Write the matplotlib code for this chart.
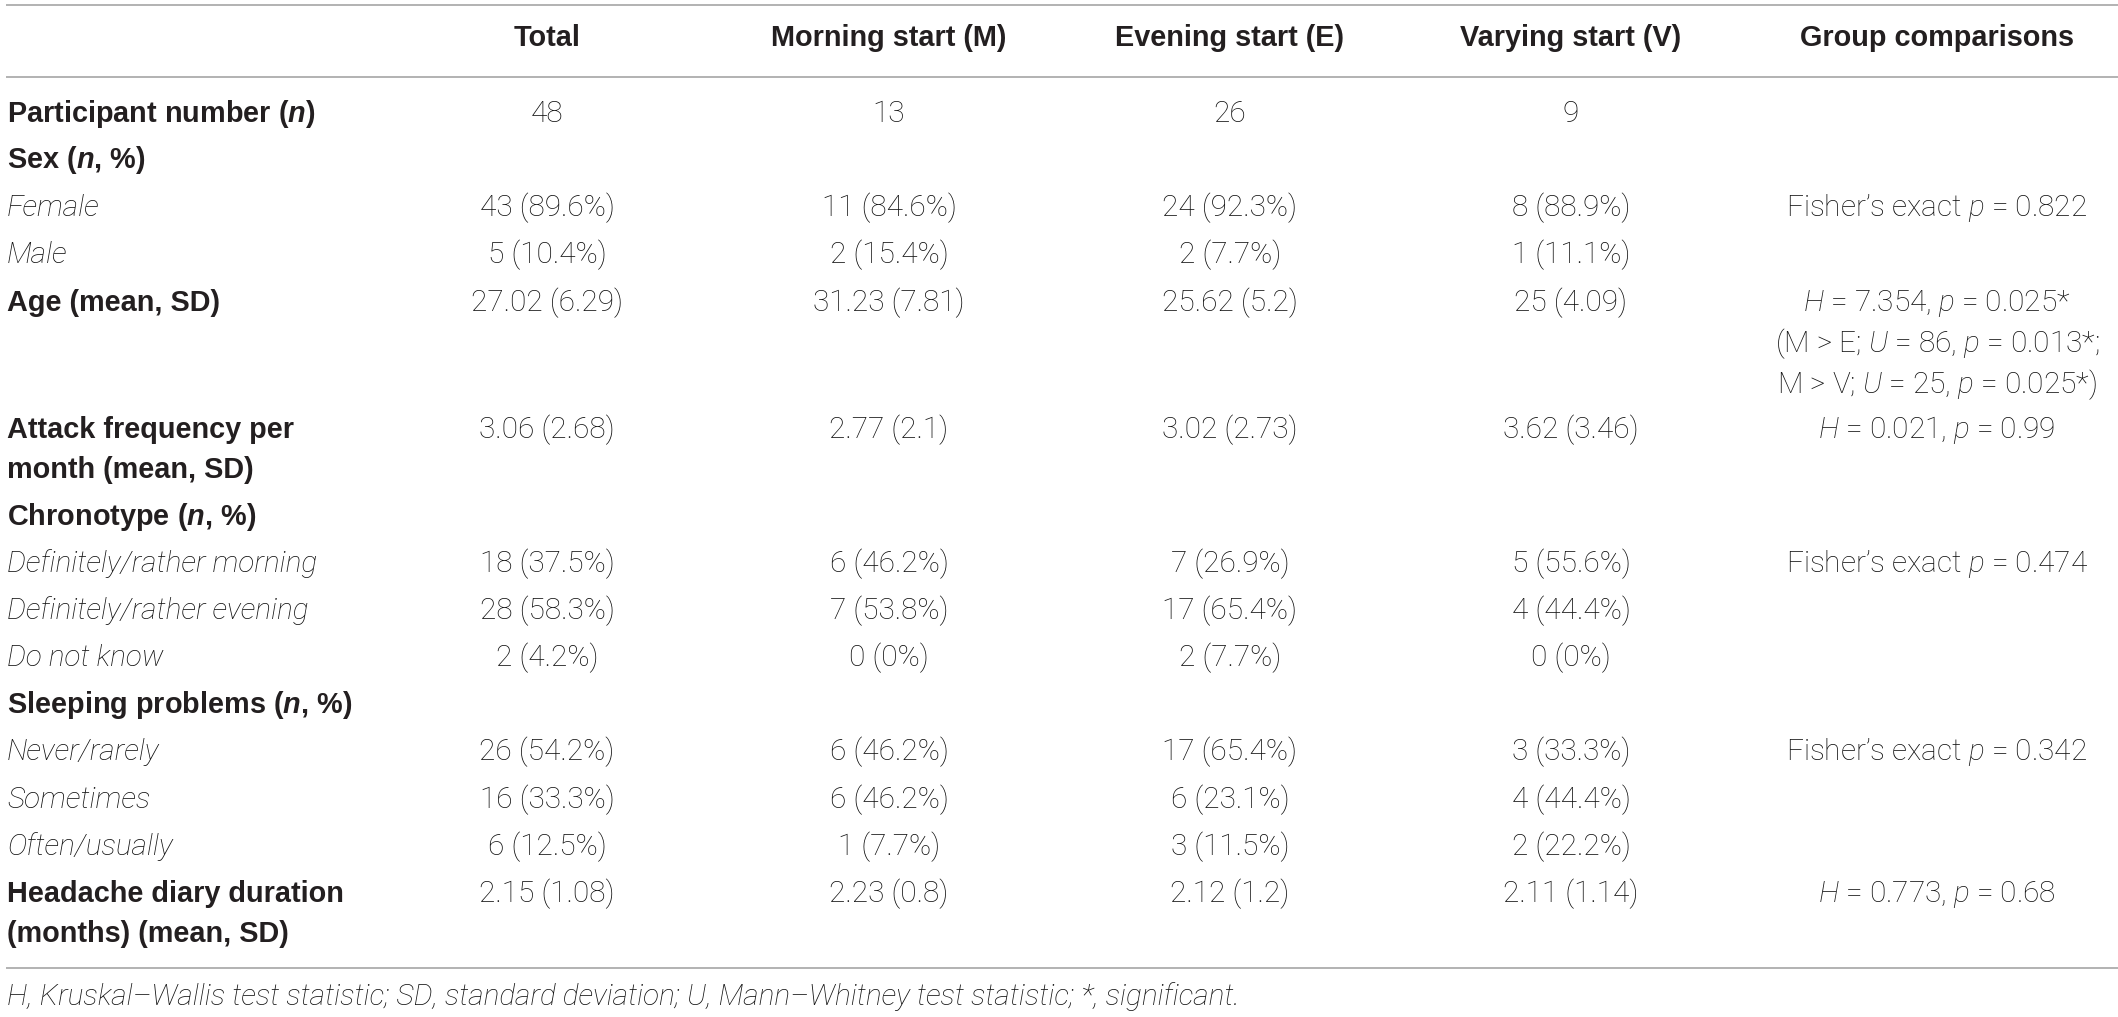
import matplotlib
matplotlib.use("Agg")
import matplotlib.pyplot as plt

# 数据（从表格读取）
columns = ["Total", "Morning start (M)", "Evening start (E)", "Varying start (V)", "Group comparisons"]
row_labels = [
    "Participant number ($\\mathbfit{n}$)",
    "Sex ($\\mathbfit{n}$, %)",
    "Female",
    "Male",
    "Age (mean, SD)",
    "Attack frequency per\nmonth (mean, SD)",
    "Chronotype ($\\mathbfit{n}$, %)",
    "Definitely/rather morning",
    "Definitely/rather evening",
    "Do not know",
    "Sleeping problems ($\\mathbfit{n}$, %)",
    "Never/rarely",
    "Sometimes",
    "Often/usually",
    "Headache diary duration\n(months) (mean, SD)",
]
row_kind = ["head", "head", "sub", "sub", "head", "head", "head", "sub", "sub", "sub",
            "head", "sub", "sub", "sub", "head"]
total = ["48", "", "43 (89.6%)", "5 (10.4%)", "27.02 (6.29)", "3.06 (2.68)", "",
         "18 (37.5%)", "28 (58.3%)", "2 (4.2%)", "", "26 (54.2%)", "16 (33.3%)",
         "6 (12.5%)", "2.15 (1.08)"]
morning = ["13", "", "11 (84.6%)", "2 (15.4%)", "31.23 (7.81)", "2.77 (2.1)", "",
           "6 (46.2%)", "7 (53.8%)", "0 (0%)", "", "6 (46.2%)", "6 (46.2%)",
           "1 (7.7%)", "2.23 (0.8)"]
evening = ["26", "", "24 (92.3%)", "2 (7.7%)", "25.62 (5.2)", "3.02 (2.73)", "",
           "7 (26.9%)", "17 (65.4%)", "2 (7.7%)", "", "17 (65.4%)", "6 (23.1%)",
           "3 (11.5%)", "2.12 (1.2)"]
varying = ["9", "", "8 (88.9%)", "1 (11.1%)", "25 (4.09)", "3.62 (3.46)", "",
           "5 (55.6%)", "4 (44.4%)", "0 (0%)", "", "3 (33.3%)", "4 (44.4%)",
           "2 (22.2%)", "2.11 (1.14)"]
comparisons = [
    "", "", "Fisher\u2019s exact $p$ = 0.822", "",
    "$H$ = 7.354, $p$ = 0.025*\n(M > E; $U$ = 86, $p$ = 0.013*;\nM > V; $U$ = 25, $p$ = 0.025*)",
    "$H$ = 0.021, $p$ = 0.99", "", "Fisher\u2019s exact $p$ = 0.474", "", "", "",
    "Fisher\u2019s exact $p$ = 0.342", "", "", "$H$ = 0.773, $p$ = 0.68",
]
footnote = ("H, Kruskal\u2013Wallis test statistic; SD, standard deviation; "
            "U, Mann\u2013Whitney test statistic; *, significant.")

# 布局（像素坐标，y 向下）
W, H = 2118, 1017
col_x = [547, 889, 1230, 1571, 1937]
header_y = 46
row_y = [122, 168, 216, 263, 311, 438, 525, 572, 619, 666, 713, 760, 808, 855, 902]
wrap_gap = 40
rules = [5, 77, 968]
foot_y = 1005

plt.rcParams["mathtext.fontset"] = "custom"
plt.rcParams["mathtext.rm"] = "Roboto:light"
plt.rcParams["mathtext.it"] = "Roboto:italic:light"
plt.rcParams["mathtext.bf"] = "Liberation Sans:bold"
try:
    plt.rcParams["mathtext.bfit"] = "Liberation Sans:italic:bold"
except KeyError:
    pass

ink = "#231F20"
ink_light = "#111111"  # 细体文字稍加深
bold = dict(family=["Liberation Sans", "DejaVu Sans"], weight="bold", size=20.8, color=ink)
light = dict(family=["Roboto", "DejaVu Sans"], weight="light", size=21.4, color=ink_light)
light_it = dict(family=["Roboto", "DejaVu Sans"], weight="light", style="italic", size=21.4,
                color=ink_light)

fig = plt.figure(figsize=(W / 100, H / 100), dpi=100)
ax = fig.add_axes([0, 0, 1, 1])
ax.set_xlim(0, W)
ax.set_ylim(H, 0)
ax.axis("off")

for y in rules:
    ax.plot([6, W], [y, y], color="#9e9e9e", lw=1.1, solid_capstyle="butt")

# 表头
for x, name in zip(col_x, columns):
    ax.text(x, header_y, name, ha="center", va="baseline", **bold)

# 行标签
for y, lab, kind in zip(row_y, row_labels, row_kind):
    style = bold if kind == "head" else light_it
    for i, line in enumerate(lab.split("\n")):
        ax.text(7, y + i * wrap_gap, line, ha="left", va="baseline", **style)

# 数值列
for x, vals in zip(col_x[:4], [total, morning, evening, varying]):
    for y, v in zip(row_y, vals):
        if v:
            ax.text(x, y, v, ha="center", va="baseline", **light)

# 组间比较
for y, v in zip(row_y, comparisons):
    for i, line in enumerate(v.split("\n")):
        if line:
            ax.text(col_x[4], y + i * 41, line, ha="center", va="baseline", **light)

ax.text(7, foot_y, footnote, ha="left", va="baseline", **light_it)

fig.savefig("out.png", dpi=100)
